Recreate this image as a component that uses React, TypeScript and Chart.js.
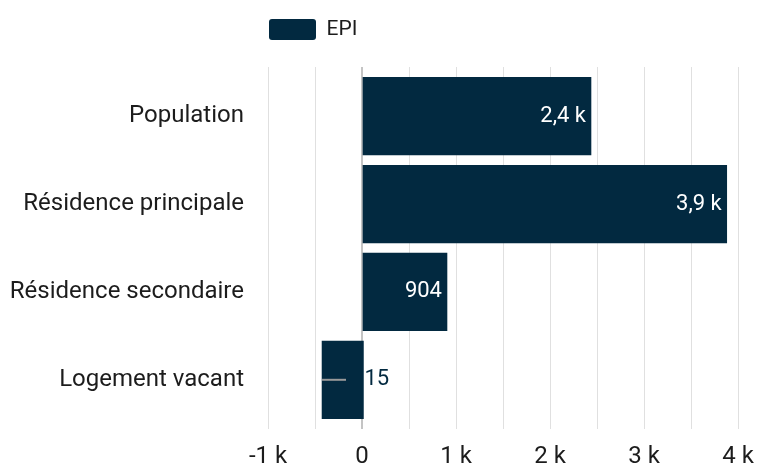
import React, { useEffect, useRef } from 'react';
import { Chart, registerables } from 'chart.js';

Chart.register(...registerables);

const categories = ['Population', 'Résidence principale', 'Résidence secondaire', 'Logement vacant'];
const seriesLabel = 'EPI';
const barStarts = [0, 0, 0, -425];
const barValues = [2436, 3880, 904, 15];
const markerFrom: (number | null)[] = [null, null, null, -425];
const markerTo: (number | null)[] = [null, null, null, -170];
const xMin = -1000;
const xMax = 4000;
const xStep = 500;

const NAVY = '#022940';
const TEXT = '#1c1c1c';

function formatValue(v: number): string {
  if (Math.abs(v) >= 1000) return (v / 1000).toFixed(1).replace('.', ',') + ' k';
  return String(v);
}

function formatTick(v: number): string {
  if (v === 0) return '0';
  if (v % 1000 === 0) return `${v / 1000} k`;
  return '';
}

const legendSpacing = {
  id: 'legendSpacing',
  beforeInit(chart: any) {
    const legend = chart.legend;
    if (!legend) return;
    const orig = legend.fit;
    legend.fit = function () {
      orig.call(this);
      this.height += 17;
    };
  },
};

const markerPlugin = {
  id: 'markerPlugin',
  afterDatasetsDraw(chart: any) {
    const { ctx } = chart;
    const xs = chart.scales.x;
    const ys = chart.scales.y;
    ctx.save();
    ctx.strokeStyle = '#9a9a9a';
    ctx.lineWidth = 2;
    markerFrom.forEach((from, i) => {
      const to = markerTo[i];
      if (from === null || to === null) return;
      const y = ys.getPixelForValue(i);
      ctx.beginPath();
      ctx.moveTo(xs.getPixelForValue(from), y);
      ctx.lineTo(xs.getPixelForValue(to), y);
      ctx.stroke();
    });
    ctx.restore();
  },
};

const valueLabels = {
  id: 'valueLabels',
  afterDatasetsDraw(chart: any) {
    const { ctx } = chart;
    const xs = chart.scales.x;
    const ys = chart.scales.y;
    const zero = xs.getPixelForValue(0);
    ctx.save();
    ctx.font = '22px Roboto';
    ctx.textBaseline = 'middle';
    barValues.forEach((v, i) => {
      const text = formatValue(v);
      const w = ctx.measureText(text).width;
      const x = xs.getPixelForValue(v);
      const y = ys.getPixelForValue(i);
      if (x - zero > w + 12) {
        ctx.fillStyle = '#ffffff';
        ctx.textAlign = 'right';
        ctx.fillText(text, x - 5, y);
      } else {
        ctx.fillStyle = NAVY;
        ctx.textAlign = 'left';
        ctx.fillText(text, x + 1, y);
      }
    });
    ctx.restore();
  },
};

export default function App() {
  const ref = useRef<HTMLCanvasElement | null>(null);

  useEffect(() => {
    if (!ref.current) return;
    Chart.defaults.font.family = 'Roboto';
    const data = categories.map((_, i) => ({ x: [barStarts[i], barValues[i]], y: i }));
    const chart = new Chart(ref.current, {
      type: 'bar',
      data: {
        datasets: [
          {
            label: seriesLabel,
            data: data as any,
            backgroundColor: NAVY,
            borderWidth: 0,
            barThickness: 77.5,
          },
        ],
      },
      plugins: [legendSpacing, markerPlugin, valueLabels],
      options: {
        indexAxis: 'y',
        responsive: false,
        animation: false,
        devicePixelRatio: 1,
        layout: { padding: { top: 18, right: 22, bottom: 0, left: 0 } },
        scales: {
          x: {
            type: 'linear',
            min: xMin,
            max: xMax,
            offset: false,
            border: { display: false },
            grid: {
              drawTicks: false,
              offset: false,
              color: (c: any) => (c.tick && c.tick.value === 0 ? '#c4c4c4' : '#e0e0e0'),
              lineWidth: (c: any) => (c.tick && c.tick.value === 0 ? 2 : 1),
            },
            afterFit: (scale: any) => {
              scale.paddingLeft = 0;
              scale.paddingRight = 0;
              scale.height = 35;
            },
            ticks: {
              stepSize: xStep,
              autoSkip: false,
              maxRotation: 0,
              padding: 16,
              color: TEXT,
              font: { size: 24, family: 'Roboto', lineHeight: 1 },
              callback: (v: any) => formatTick(Number(v)),
            },
          },
          y: {
            type: 'linear',
            reverse: true,
            min: -0.56,
            max: 3.56,
            offset: false,
            border: { display: false },
            grid: { display: false, drawTicks: false, offset: false },
            afterBuildTicks: (scale: any) => {
              scale.ticks = categories.map((_, i) => ({ value: i }));
            },
            afterFit: (scale: any) => {
              scale.width = 268;
              scale.paddingTop = 0;
              scale.paddingBottom = 0;
            },
            ticks: {
              padding: 24,
              color: TEXT,
              font: { size: 24, family: 'Roboto' },
              callback: (v: any) => categories[Number(v)] ?? '',
            },
          },
        },
        plugins: {
          legend: {
            display: true,
            position: 'top',
            align: 'start',
            fullSize: false,
            labels: {
              boxWidth: 47,
              boxHeight: 21,
              padding: 1,
              color: TEXT,
              useBorderRadius: true,
              borderRadius: 3,
              font: { size: 21, family: 'Roboto' },
            },
          },
          tooltip: { enabled: false },
        },
      } as any,
    });
    return () => chart.destroy();
  }, []);

  return (
    <div style={{ position: 'absolute', left: 0, top: 0, width: 760, height: 464 }}>
      <canvas ref={ref} width={760} height={464} />
    </div>
  );
}
